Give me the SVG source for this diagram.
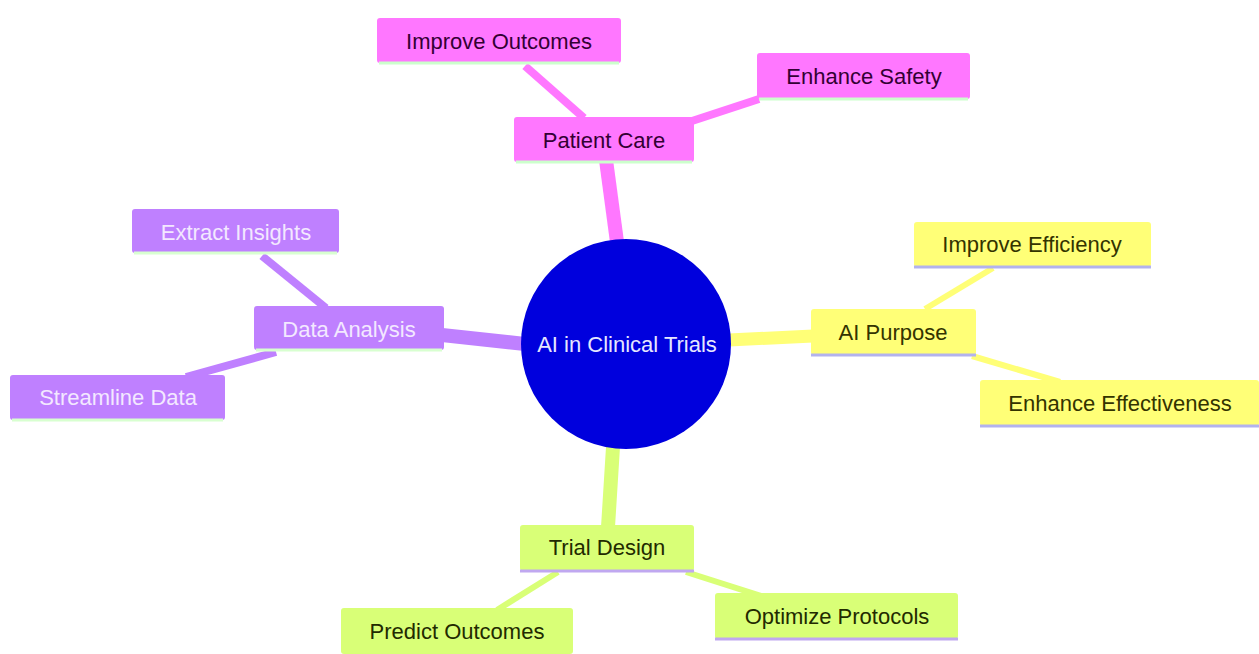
<svg xmlns="http://www.w3.org/2000/svg" width="1259" height="654" viewBox="0 0 1259 654">
<style>
text{font-family:"Liberation Sans",Arial,sans-serif;font-size:22px;text-anchor:middle;dominant-baseline:central}
.pk rect{fill:#ff77ff}.pk text{fill:#330033}.pk line{stroke:#ccffcc}
.yl rect{fill:#ffff77}.yl text{fill:#333300}.yl line{stroke:#b3b3ee}
.pu rect{fill:#bf80ff}.pu text{fill:#f3e8ff}.pu line{stroke:#d8ffd0}
.gr rect{fill:#d9ff77}.gr text{fill:#222a00}.gr line{stroke:#c0a8f0}
.n line{stroke-width:3}
#connectors line{stroke-linecap:butt}
</style>
<rect width="1259" height="654" fill="#ffffff"/>
<g id="connectors">
<line x1="606" y1="160" x2="617" y2="242" stroke="#ff77ff" stroke-width="14"/>
<line x1="525" y1="66" x2="584" y2="118" stroke="#ff77ff" stroke-width="8"/>
<line x1="759" y1="99" x2="692" y2="121" stroke="#ff77ff" stroke-width="8"/>
<line x1="729" y1="340" x2="813" y2="336" stroke="#ffff77" stroke-width="13"/>
<line x1="925" y1="309" x2="993" y2="268" stroke="#ffff77" stroke-width="6"/>
<line x1="972" y1="356" x2="1060" y2="382" stroke="#ffff77" stroke-width="6"/>
<line x1="442" y1="335" x2="525" y2="344" stroke="#bf80ff" stroke-width="14"/>
<line x1="262" y1="256" x2="326" y2="308" stroke="#bf80ff" stroke-width="8"/>
<line x1="186" y1="377" x2="276" y2="352" stroke="#bf80ff" stroke-width="8"/>
<line x1="613" y1="447" x2="608" y2="527" stroke="#d9ff77" stroke-width="14"/>
<line x1="558" y1="572" x2="497" y2="610" stroke="#d9ff77" stroke-width="6"/>
<line x1="686" y1="572" x2="764" y2="597" stroke="#d9ff77" stroke-width="6"/>
</g>
<g id="root">
<circle cx="626" cy="344" r="105" fill="#0000dd"/>
<text x="627" y="344" fill="#e6e6ff">AI in Clinical Trials</text>
</g>
<g id="patient-care" class="n pk"><rect x="514" y="117" width="180" height="45" rx="3"/><line x1="516" y1="162" x2="692" y2="162"/><text x="604" y="140">Patient Care</text></g>
<g id="improve-outcomes" class="n pk"><rect x="377" y="18" width="244" height="45" rx="3"/><line x1="379" y1="63" x2="619" y2="63"/><text x="499" y="41">Improve Outcomes</text></g>
<g id="enhance-safety" class="n pk"><rect x="757" y="53" width="213" height="46" rx="3"/><line x1="759" y1="99" x2="968" y2="99"/><text x="864" y="76">Enhance Safety</text></g>
<g id="ai-purpose" class="n yl"><rect x="811" y="309" width="165" height="46" rx="3"/><line x1="811" y1="355" x2="976" y2="355"/><text x="893" y="332">AI Purpose</text></g>
<g id="improve-efficiency" class="n yl"><rect x="914" y="222" width="237" height="45" rx="3"/><line x1="914" y1="267" x2="1151" y2="267"/><text x="1032" y="244">Improve Efficiency</text></g>
<g id="enhance-effectiveness" class="n yl"><rect x="980" y="380" width="279" height="46" rx="3"/><line x1="980" y1="426" x2="1259" y2="426"/><text x="1120" y="403">Enhance Effectiveness</text></g>
<g id="data-analysis" class="n pu"><rect x="254" y="306" width="190" height="44" rx="3"/><line x1="256" y1="350" x2="442" y2="350"/><text x="349" y="329">Data Analysis</text></g>
<g id="extract-insights" class="n pu"><rect x="132" y="209" width="207" height="44" rx="3"/><line x1="134" y1="253" x2="337" y2="253"/><text x="236" y="232">Extract Insights</text></g>
<g id="streamline-data" class="n pu"><rect x="10" y="375" width="215" height="45" rx="3"/><line x1="12" y1="420" x2="223" y2="420"/><text x="118" y="397">Streamline Data</text></g>
<g id="trial-design" class="n gr"><rect x="520" y="525" width="174" height="46" rx="3"/><line x1="520" y1="571" x2="694" y2="571"/><text x="607" y="547">Trial Design</text></g>
<g id="predict-outcomes" class="n gr"><rect x="341" y="608" width="232" height="46" rx="3"/><text x="457" y="631">Predict Outcomes</text></g>
<g id="optimize-protocols" class="n gr"><rect x="715" y="593" width="243" height="46" rx="3"/><line x1="715" y1="639" x2="958" y2="639"/><text x="837" y="616">Optimize Protocols</text></g>
</svg>
